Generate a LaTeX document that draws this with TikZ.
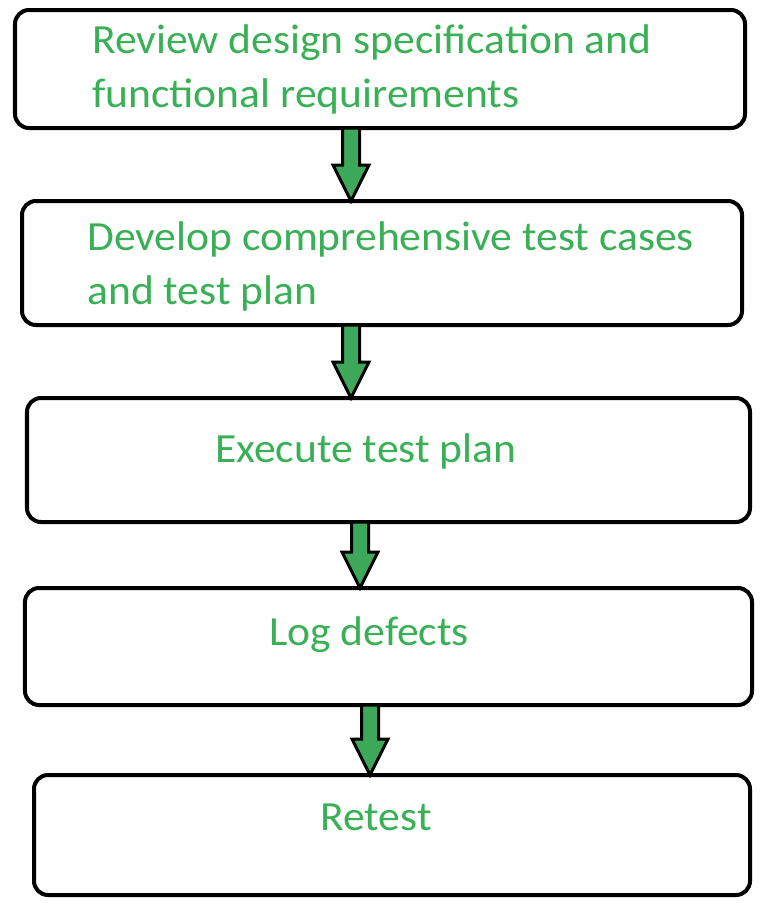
\documentclass[tikz,border=0pt]{standalone}
\usepackage{fontspec}
\setmainfont{Carlito}[FakeStretch=1.05]
\usepackage{xcolor}
\usepackage{tikz}
\usetikzlibrary{calc, positioning}

\definecolor{steptext}{RGB}{58,176,86}
\definecolor{arrowfill}{RGB}{61,168,90}

\tikzset{
  stepbox/.style={rectangle, draw=black, line width=0.1cm, rounded corners=0.35cm, outer sep=0pt, fill=white},
  steplabel/.style={inner sep=0pt, text=steptext, align=left, anchor=base west,
    font=\fontsize{29.5pt}{38.4pt}\selectfont},
  blockarrow/.style={draw=black, fill=arrowfill, line width=0.075cm, line join=miter}
}

% block arrow: from bottom of #1 to top of #2, at x = #3 (cm)
\newcommand{\blockarr}[3]{%
  \draw[blockarrow] let \p1=(#1.south), \p2=(#2.north) in
    (#3cm-0.2125cm,\y1) -- (#3cm+0.2125cm,\y1) -- (#3cm+0.2125cm,\y2+0.9cm)
    -- (#3cm+0.45cm,\y2+0.9cm) -- (#3cm,\y2) -- (#3cm-0.45cm,\y2+0.9cm)
    -- (#3cm-0.2125cm,\y2+0.9cm) -- cycle;}

\begin{document}
\begin{tikzpicture}
    \useasboundingbox (0,0) rectangle (19.225,-22.8);

    % Boxes
    \node[stepbox, minimum width=18.25cm, minimum height=2.95cm] (review) at (9.5,-1.725) {};
    \node[stepbox, minimum width=18.0cm, minimum height=3.1cm] (develop) at (9.55,-6.575) {};
    \node[stepbox, minimum width=18.075cm, minimum height=3.1cm] (execute) at (9.7125,-11.5) {};
    \node[stepbox, minimum width=18.175cm, minimum height=2.925cm] (logdef) at (9.7125,-16.1625) {};
    \node[stepbox, minimum width=17.9cm, minimum height=3.0cm] (retest) at (9.8,-20.875) {};

    % Texts (base = last line)
    \node[steplabel] (reviewtxt) at (2.3,-2.675) {Review design specification and\\functional requirements};
    \node[steplabel] (developtxt) at (2.175,-7.6) {Develop comprehensive test cases\\and test plan};
    \node[steplabel] (executetxt) at (5.375,-11.55) {Execute test plan};
    \node[steplabel] (logdeftxt) at (6.725,-16.125) {Log defects};
    \node[steplabel] (retesttxt) at (8.0,-20.75) {Retest};

    % Arrows
    \blockarr{review}{develop}{8.775}
    \blockarr{develop}{execute}{8.775}
    \blockarr{execute}{logdef}{9.0}
    \blockarr{logdef}{retest}{9.25}
\end{tikzpicture}
\end{document}
